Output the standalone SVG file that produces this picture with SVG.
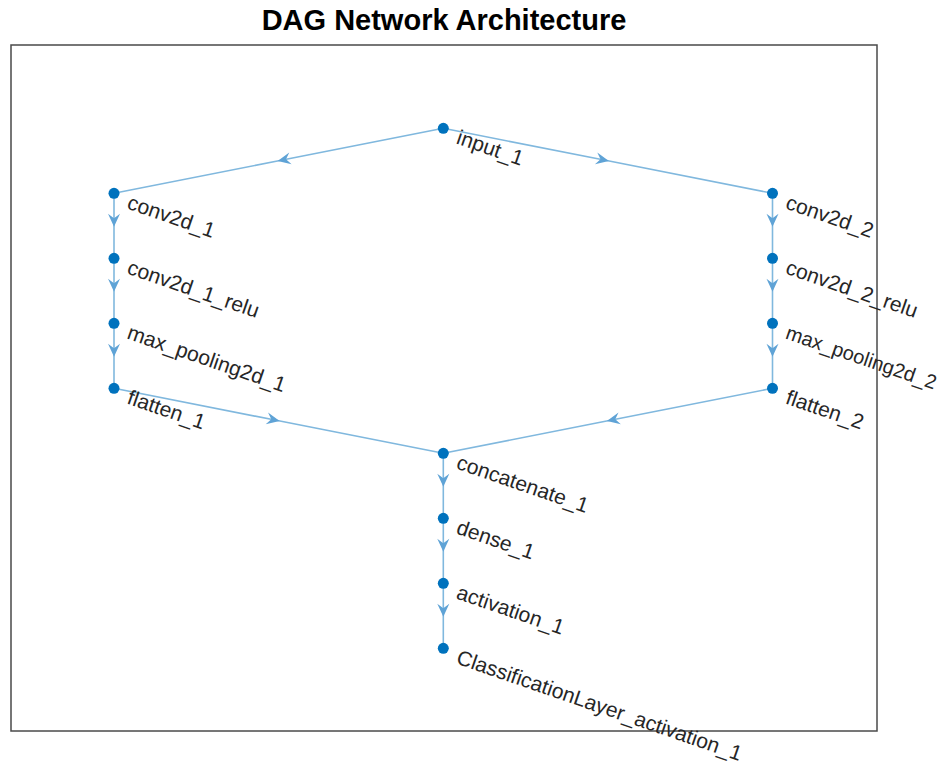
<svg xmlns="http://www.w3.org/2000/svg" width="944" height="766" viewBox="0 0 944 766">
<style>
.edge{fill:none;stroke:#80B8DE;stroke-width:1.6;marker-mid:url(#arr)}
.node circle{fill:#0072BD}
.node text{font-family:"Liberation Sans",Arial,sans-serif;font-size:21px;fill:#262626}
.title{font-family:"Liberation Sans",Arial,sans-serif;font-size:29px;font-weight:bold;fill:#000}
</style>
<defs>
<marker id="arr" markerUnits="userSpaceOnUse" orient="auto" refX="0" refY="0" markerWidth="20" markerHeight="20" overflow="visible">
<path d="M1,0 L-12,-6 L-7.5,0 L-12,6 Z" fill="#5FA3D6"/>
</marker>
</defs>
<rect x="0" y="0" width="944" height="766" fill="#fff"/>
<text class="title" x="444" y="30" text-anchor="middle">DAG Network Architecture</text>
<rect x="11" y="45" width="866" height="686" fill="none" stroke="#4a4a4a" stroke-width="1.5"/>
<g id="edges">
<path class="edge" d="M443.3,128.3 L278.65,160.8 L114,193.3"/>
<path class="edge" d="M443.3,128.3 L607.9,160.8 L772.5,193.3"/>
<path class="edge" d="M114,193.3 L114,225.8 L114,258.3"/>
<path class="edge" d="M114,258.3 L114,290.8 L114,323.3"/>
<path class="edge" d="M114,323.3 L114,355.8 L114,388.3"/>
<path class="edge" d="M772.5,193.3 L772.5,225.8 L772.5,258.3"/>
<path class="edge" d="M772.5,258.3 L772.5,290.8 L772.5,323.3"/>
<path class="edge" d="M772.5,323.3 L772.5,355.8 L772.5,388.3"/>
<path class="edge" d="M114,388.3 L278.65,420.8 L443.3,453.3"/>
<path class="edge" d="M772.5,388.3 L607.9,420.8 L443.3,453.3"/>
<path class="edge" d="M443.3,453.3 L443.3,485.8 L443.3,518.3"/>
<path class="edge" d="M443.3,518.3 L443.3,550.8 L443.3,583.3"/>
<path class="edge" d="M443.3,583.3 L443.3,615.8 L443.3,648.3"/>
</g>
<g id="input_1" class="node"><circle cx="443.3" cy="128.3" r="5.5"/><text transform="translate(455.3,143.3) rotate(19)">input_1</text></g>
<g id="conv2d_1" class="node"><circle cx="114" cy="193.3" r="5.5"/><text transform="translate(126,208.3) rotate(19)">conv2d_1</text></g>
<g id="conv2d_1_relu" class="node"><circle cx="114" cy="258.3" r="5.5"/><text transform="translate(126,273.3) rotate(19)">conv2d_1_relu</text></g>
<g id="max_pooling2d_1" class="node"><circle cx="114" cy="323.3" r="5.5"/><text transform="translate(126,338.3) rotate(19)">max_pooling2d_1</text></g>
<g id="flatten_1" class="node"><circle cx="114" cy="388.3" r="5.5"/><text transform="translate(126,403.3) rotate(19)">flatten_1</text></g>
<g id="conv2d_2" class="node"><circle cx="772.5" cy="193.3" r="5.5"/><text transform="translate(784.5,208.3) rotate(19)">conv2d_2</text></g>
<g id="conv2d_2_relu" class="node"><circle cx="772.5" cy="258.3" r="5.5"/><text transform="translate(784.5,273.3) rotate(19)">conv2d_2_relu</text></g>
<g id="max_pooling2d_2" class="node"><circle cx="772.5" cy="323.3" r="5.5"/><text transform="translate(784.5,338.3) rotate(19)" style="font-size:20px">max_pooling2d_2</text></g>
<g id="flatten_2" class="node"><circle cx="772.5" cy="388.3" r="5.5"/><text transform="translate(784.5,403.3) rotate(19)">flatten_2</text></g>
<g id="concatenate_1" class="node"><circle cx="443.3" cy="453.3" r="5.5"/><text transform="translate(455.3,468.3) rotate(19)">concatenate_1</text></g>
<g id="dense_1" class="node"><circle cx="443.3" cy="518.3" r="5.5"/><text transform="translate(455.3,533.3) rotate(19)">dense_1</text></g>
<g id="activation_1" class="node"><circle cx="443.3" cy="583.3" r="5.5"/><text transform="translate(455.3,598.3) rotate(19)">activation_1</text></g>
<g id="ClassificationLayer_activation_1" class="node"><circle cx="443.3" cy="648.3" r="5.5"/><text transform="translate(455.3,663.3) rotate(19)">ClassificationLayer_activation_1</text></g>
</svg>
